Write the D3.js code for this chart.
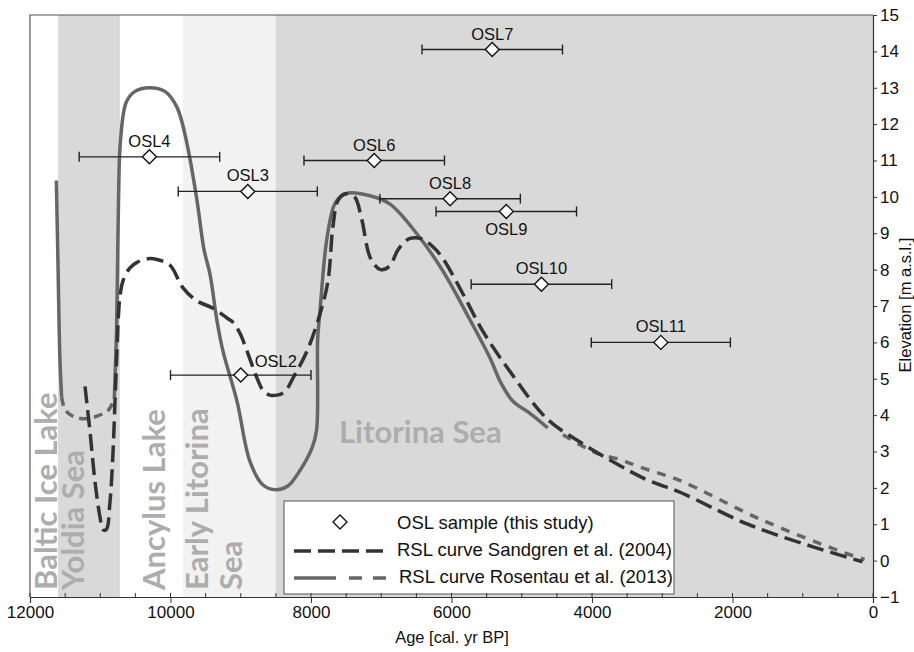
<!DOCTYPE html>
<html><head><meta charset="utf-8">
<script src="https://cdn.jsdelivr.net/npm/d3@7"></script>
<style>body{margin:0;background:#fff}svg{display:block}</style>
</head><body>
<svg id="c" width="914" height="652"></svg>
<script>
// ---------- data ----------
const xTicks = [12000, 10000, 8000, 6000, 4000, 2000, 0];
const xMinorTicks = d3.range(0, 12001, 500);
const yTicks = [-1,0,1,2,3,4,5,6,7,8,9,10,11,12,13,14,15];

const bandNames = ["Baltic Ice Lake", "Yoldia Sea", "Ancylus Lake", "Early Litorina Sea", "Litorina Sea"];
const bandFrom  = [12000, 11600, 10720, 9820, 8500];
const bandTo    = [11600, 10720, 9820, 8500, 0];

const oslNames = ["OSL2","OSL3","OSL4","OSL6","OSL7","OSL8","OSL9","OSL10","OSL11"];
const oslAge   = [9000, 8900, 10300, 7100, 5420, 6020, 5220, 4720, 3020];
const oslElev  = [5.1, 10.15, 11.1, 11.0, 14.05, 9.95, 9.6, 7.6, 6.0];
const oslErr   = [1000, 990, 1000, 1000, 1000, 1000, 1000, 1000, 990];

const sandgrenCurve = [
 [11217,4.79],[11146,3.55],[11075,2.17],[11004,1.2],[10961,0.85],[10915,0.85],[10861,1.62],
 [10818,3.0],[10790,4.38],[10762,5.76],[10745,6.6],[10719,7.27],[10676,7.69],[10577,8.05],
 [10477,8.2],[10320,8.3],[10192,8.28],[10007,8.12],[9822,7.5],[9623,7.14],[9395,6.94],
 [9196,6.67],[9110,6.55],[9011,6.25],[8911,5.76],[8769,5.02],[8683,4.68],[8584,4.55],
 [8484,4.55],[8370,4.65],[8256,5.02],[8057,5.76],[7872,6.78],[7758,7.69],[7687,9.2],
 [7616,9.9],[7520,10.08],[7380,10.0],[7280,9.4],[7150,8.3],[7010,8.0],[6880,8.1],
 [6760,8.55],[6600,8.85],[6430,8.85],[6250,8.6],[6121,8.3],[5836,7.33],[5552,6.3],
 [5167,5.2],[4641,3.9],[4171,3.26],[3701,2.72],[3217,2.22],[2747,1.88],[1794,1.01],
 [854,0.38],[150,-0.03]
];

const rosentauSolidA = [[11625,10.45],[11600,8.0],[11575,5.6],[11550,4.5]];
const rosentauDashA  = [[11550,4.5],[11500,4.15],[11388,3.97],[11217,3.9],[11046,3.97],[10880,4.15],[10800,4.45]];
const rosentauSolidB = [
 [10800,4.45],[10770,6.2],[10755,7.9],[10740,9.9],[10712,11.55],[10630,12.6],[10505,12.9],
 [10300,13.0],[10080,12.9],[9907,12.46],[9765,11.46],[9623,9.9],[9523,8.55],[9438,7.88],
 [9338,6.59],[9253,5.76],[9053,4.38],[8868,2.72],[8683,2.08],[8500,1.95],[8330,2.05],
 [8150,2.5],[7985,3.1],[7920,3.6],[7905,6.1],[7872,6.86],[7772,8.87],[7650,9.85],
 [7487,10.1],[7160,10.03],[6875,9.8],[6491,8.98],[6121,7.96],[5779,6.77],[5452,5.57],
 [5300,4.9],[5125,4.38],[4883,4.05],[4630,3.65]
];
const rosentauDashB  = [[4413,3.46],[3929,2.95],[3600,2.78],[3317,2.57],[2747,2.2],[1608,1.14],[470,0.26],[120,0.03]];

// ---------- chart ----------
const svg = d3.select("#c");
const x = d3.scaleLinear().domain([12000, 0]).range([30, 873]);
const y = d3.scaleLinear().domain([-1, 15]).range([597, 15]);
const bandFill = ["#ffffff", "#d9d9d9", "#ffffff", "#f2f2f2", "#d9d9d9"];

svg.append("g").selectAll("rect").data(bandFrom).join("rect")
  .attr("x", (d,i) => x(d)).attr("width", (d,i) => x(bandTo[i]) - x(d))
  .attr("y", y(15)).attr("height", y(-1) - y(15))
  .attr("fill", (d,i) => bandFill[i]);

// band labels
const lab = svg.append("g").attr("font-family","Lato, 'Open Sans', sans-serif")
  .attr("font-weight", 700).attr("font-size", 31).attr("fill", "#adadad");
const vLabels = [
  {t: bandNames[0], px: 57}, {t: bandNames[1], px: 84},
  {t: bandNames[2], px: 165}, {t: "Early Litorina", px: 208}, {t: "Sea", px: 242}
];
vLabels.forEach(v => {
  lab.append("text").attr("transform", `translate(${v.px},590) rotate(-90)`).text(v.t);
});
lab.append("text").attr("x", 339).attr("y", 443).text(bandNames[4]);

// curves
const line = d3.line().x(d => x(d[0])).y(d => y(d[1])).curve(d3.curveCatmullRom.alpha(0.5));
const curves = svg.append("g").attr("fill","none").attr("stroke-width",3.5);
curves.append("path").attr("d", line(rosentauSolidA)).attr("stroke","#666");
curves.append("path").attr("d", line(rosentauDashA)).attr("stroke","#666").attr("stroke-dasharray","9,6");
curves.append("path").attr("d", line(rosentauSolidB)).attr("stroke","#666");
curves.append("path").attr("d", line(rosentauDashB)).attr("stroke","#666").attr("stroke-dasharray","9,8");
curves.append("path").attr("d", line(sandgrenCurve)).attr("stroke","#333").attr("stroke-dasharray","17,7");

// OSL samples
const osl = svg.append("g");
oslNames.forEach((n,i) => {
  const cx = x(oslAge[i]), cy = y(oslElev[i]);
  const x1 = x(oslAge[i] + oslErr[i]), x2 = x(oslAge[i] - oslErr[i]);
  const g = osl.append("g").attr("stroke","#222").attr("stroke-width",1.4);
  g.append("line").attr("x1",x1).attr("x2",x2).attr("y1",cy).attr("y2",cy);
  g.append("line").attr("x1",x1).attr("x2",x1).attr("y1",cy-5).attr("y2",cy+5);
  g.append("line").attr("x1",x2).attr("x2",x2).attr("y1",cy-5).attr("y2",cy+5);
  g.append("path").attr("d",`M${cx},${cy-7}L${cx+7},${cy}L${cx},${cy+7}L${cx-7},${cy}Z`)
    .attr("fill","#fff").attr("stroke","#111").attr("stroke-width",1.4);
  let tx = cx, ty = cy - 10;
  if (n === "OSL9") ty = cy + 24;
  if (n === "OSL2") { tx = cx + 35; ty = cy - 8; }
  osl.append("text").attr("x",tx).attr("y",ty).attr("text-anchor","middle")
    .attr("font-family","Arial, 'Liberation Sans', sans-serif").attr("font-size",16.5)
    .attr("fill","#111").text(n);
});

// frame
svg.append("path").attr("d", `M${x(12000)},${y(-1)}V${y(15)}H${x(0)}`)
  .attr("fill","none").attr("stroke","#555").attr("stroke-width",1.2);

// legend
const lg = svg.append("g");
lg.append("rect").attr("x",284).attr("y",501).attr("width",390).attr("height",93)
  .attr("fill","#fff").attr("stroke","#555").attr("stroke-width",1);
lg.append("path").attr("d","M340,515L347,522L340,529L333,522Z").attr("fill","#fff")
  .attr("stroke","#111").attr("stroke-width",1.4);
lg.append("line").attr("x1",294).attr("x2",387).attr("y1",551).attr("y2",551)
  .attr("stroke","#333").attr("stroke-width",3.5).attr("stroke-dasharray","17,7");
lg.append("line").attr("x1",294).attr("x2",336).attr("y1",578).attr("y2",578)
  .attr("stroke","#666").attr("stroke-width",3.5);
lg.append("line").attr("x1",349).attr("x2",387).attr("y1",578).attr("y2",578)
  .attr("stroke","#666").attr("stroke-width",3.5).attr("stroke-dasharray","13,11");
const legendLabels = ["OSL sample (this study)", "RSL curve Sandgren et al. (2004)", "RSL curve Rosentau et al. (2013)"];
lg.selectAll("text").data(legendLabels).join("text")
  .attr("x", (d,i) => i === 2 ? 399 : 397).attr("y", (d,i) => 529 + i*27)
  .attr("font-family","Arial, 'Liberation Sans', sans-serif").attr("font-size",18.5)
  .attr("fill","#111").text(d => d);

// bottom axis
const xAxis = svg.append("g").attr("transform", `translate(0,${y(-1)})`)
  .call(d3.axisBottom(x).tickValues(xTicks).tickFormat(d3.format("d")).tickSize(6).tickPadding(3));
svg.append("g").selectAll("line").data(xMinorTicks).join("line")
  .attr("x1", d => x(d)).attr("x2", d => x(d)).attr("y1", y(-1)-4).attr("y2", y(-1))
  .attr("stroke","#333");
// right axis
const yAxis = svg.append("g").attr("transform", `translate(${x(0)},0)`)
  .call(d3.axisRight(y).tickValues(yTicks).tickSize(4).tickPadding(3));
[xAxis, yAxis].forEach(a => {
  a.select(".domain").attr("stroke","#333").attr("stroke-width",1.2);
  a.selectAll(".tick line").attr("stroke","#333");
  a.selectAll("text").attr("font-family","Arial, 'Liberation Sans', sans-serif")
    .attr("font-size",17).attr("fill","#111");
});

svg.append("text").attr("x", 452).attr("y", 643).attr("text-anchor","middle")
  .attr("font-family","Arial, 'Liberation Sans', sans-serif").attr("font-size",16.5)
  .attr("fill","#111").text("Age [cal. yr BP]");
svg.append("text").attr("transform", `translate(911,305) rotate(-90)`).attr("text-anchor","middle")
  .attr("font-family","Arial, 'Liberation Sans', sans-serif").attr("font-size",16.5)
  .attr("fill","#111").text("Elevation [m a.s.l.]");
</script>
</body></html>
